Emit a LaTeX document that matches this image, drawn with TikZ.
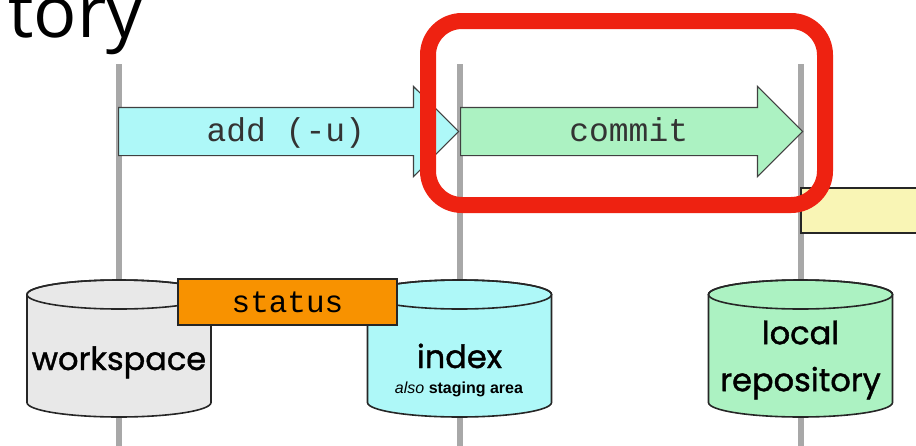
\documentclass[tikz,border=0pt]{standalone}
\usepackage{fontspec}
\setmainfont{Liberation Sans}
\setmonofont{Liberation Mono}
\newfontfamily\headfont{Open Sans}
\newfontfamily\storefont{Poppins}[FakeBold=1.2]
\usetikzlibrary{shapes.arrows,positioning,calc}

\definecolor{lifegray}{HTML}{A8A8A8}
\definecolor{wsgray}{HTML}{E8E8E8}
\definecolor{idxcyan}{HTML}{AEF8F8}
\definecolor{repogreen}{HTML}{ACF2C2}
\definecolor{statorange}{HTML}{F89200}
\definecolor{nextyellow}{HTML}{F9F5B5}
\definecolor{hlred}{HTML}{EE2211}

% storage drum: #1 centre x, #2 fill
\newcommand\storedrum[2]{%
	\filldraw[fill=#2, draw=black!85, line width=1.6pt]
		(#1-92,294.5) -- (#1-92,402.5) arc[start angle=180, end angle=0, x radius=92, y radius=14.5]
		-- (#1+92,294.5) arc[start angle=0, end angle=-180, x radius=92, y radius=14.5] -- cycle;
	\draw[black!85, line width=1.6pt] (#1,294.5) ellipse[x radius=92, y radius=14.5];
}

\begin{document}
\begin{tikzpicture}[x=1pt,y=-1pt,
	lifeline/.style={draw=lifegray, line width=6pt},
	cmd/.style={single arrow, draw=black!75, line width=1.2pt, single arrow head extend=21pt,
		inner xsep=0pt, inner ysep=0pt, text height=33.5pt, text depth=13.5pt, anchor=tail},
	cmdlabel/.style={font=\ttfamily\fontsize{33}{33}\selectfont, text=black!80, inner sep=0pt, anchor=base},
	store/.style={font=\storefont\fontsize{32}{47}\selectfont, align=center, inner sep=0pt},
	box/.style={draw=black!85, inner sep=0pt}]
	\useasboundingbox (0,0) rectangle (916,445);
	\clip (0,0) rectangle (916,445);
	
	\coordinate (ws top) at (119,64);
	\coordinate (ws bot) at (119,450);
	\coordinate (idx top) at (459.5,64);
	\coordinate (idx bot) at (459.5,450);
	\coordinate (repo top) at (800.5,64);
	\coordinate (repo bot) at (800.5,450);
	\draw[lifeline] (ws top) -- (ws bot);
	\draw[lifeline] (idx top) -- (idx bot);
	\draw[lifeline] (repo top) -- (repo bot);
	
	\node[cmd, fill=idxcyan, minimum height=340pt] (add) at (118,131.5) {};
	\node[cmd, fill=repogreen, minimum height=342pt] (commit) at (460,131.5) {};
	\node[cmdlabel] (add text) at ($(add.tail)!0.5!(add.tip)+(-3,10)$) {add (-u)};
	\node[cmdlabel] (commit text) at ($(commit.tail)!0.5!(commit.tip)+(-3,10)$) {commit};
	
	\node[box, line width=1.5pt, fill=nextyellow, minimum width=150pt, minimum height=45pt,
		anchor=north west] (next) at (800,187) {};
	
	\storedrum{119}{wsgray}
	\storedrum{459.5}{idxcyan}
	\storedrum{800.5}{repogreen}
	\node[store, anchor=base] (ws) at (119,370) {workspace};
	\node[store, anchor=base] (idx) at (459.5,368) {index};
	\node[font=\bfseries\fontsize{16}{16}\selectfont, anchor=base, inner sep=0pt] (stage)
		at (459,393) {\textit{\mdseries also} staging area};
	\node[store] (repo) at (800.5,360) {local\\repository};
	
	\node[box, line width=2pt, fill=statorange, minimum width=219pt, minimum height=46pt,
		font=\ttfamily\fontsize{31}{31}\selectfont] (status) at (287.5,302) {status};
	
	\node[draw=hlred, line width=16pt, rounded corners=34pt, minimum width=397pt,
		minimum height=184pt, inner sep=0pt] (focus) at (626.5,113) {};
	
	\node[font=\headfont\fontsize{72}{72}\selectfont, anchor=base west, inner sep=0pt]
		(title) at (8,37) {tory};
\end{tikzpicture}
\end{document}
